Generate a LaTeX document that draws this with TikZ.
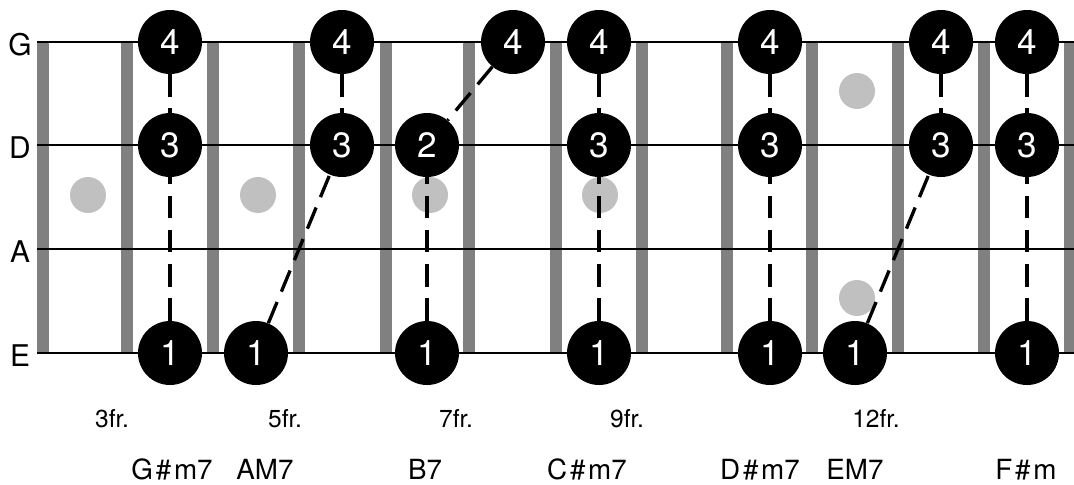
\documentclass[tikz,border=0pt]{standalone}
\usepackage{fontspec}
\setmainfont{TeX Gyre Heros}
\definecolor{fretgray}{HTML}{808080}
\definecolor{dotgray}{HTML}{C0C0C0}
% string heights, in px of the drawing
\newcommand{\yG}{42}
\newcommand{\yD}{145}
\newcommand{\yA}{249}
\newcommand{\yE}{353}
\newcommand{\fing}[4]{\node[finger] (#1) at (#2,#3) {#4};}
\newcommand{\chordname}[3]{\node[chord] (#1) at (#2,479) {#3};}
\newcommand{\fretmark}[3]{\node[frlabel] (#1) at (#2,427) {#3};}
\newcommand{\sh}{\hspace{0.1em}\#\hspace{0.1em}}
\tikzset{
  finger/.style={circle, fill=black, minimum size=1.28cm, inner sep=0pt, text=white,
    font=\fontsize{20}{20}\selectfont},
  inlay/.style={circle, fill=dotgray, minimum size=0.72cm, inner sep=0pt},
  fingerline/.style={line width=1.9pt, dash pattern=on 13pt off 6.4pt},
  strline/.style={line width=1.1pt},
  strlabel/.style={font=\fontsize{17}{17}\selectfont, anchor=base, inner sep=0pt},
  frlabel/.style={font=\fontsize{14}{14}\selectfont, anchor=base, inner sep=0pt},
  chord/.style={font=\fontsize{15.8}{15.8}\selectfont, anchor=base, inner sep=0pt}
}
\begin{document}
\begin{tikzpicture}[x=0.02cm, y=-0.02cm]
    \useasboundingbox (0,0) rectangle (1074,484);
    % frets
    \foreach \x in {43,127,213,299,386,469,556,642,727,812,898,984,1070}
        \fill[fretgray] (\x-6,\yG) rectangle (\x+6,\yE);
    % strings
    \foreach \s/\y in {G/\yG, D/\yD, A/\yA, E/\yE} {
        \draw[strline] (37,\y) -- (1074,\y);
        \node[strlabel] (lbl\s) at (20,\y+13) {\s};
    }
    % position marks
    \node[inlay] (in3) at (88,195) {};
    \node[inlay] (in5) at (258,195) {};
    \node[inlay] (in7) at (430,195) {};
    \node[inlay] (in9) at (600,195) {};
    \node[inlay] (in12a) at (857,91) {};
    \node[inlay] (in12b) at (857,298) {};
    % G#m7
    \fing{g4}{170}{\yG}{4}
    \fing{g3}{170}{\yD}{3}
    \fing{g1}{170}{\yE}{1}
    % AM7
    \fing{a4}{342}{\yG}{4}
    \fing{a3}{342}{\yD}{3}
    \fing{a1}{256}{\yE}{1}
    % B7
    \fing{b4}{513}{\yG}{4}
    \fing{b2}{427}{\yD}{2}
    \fing{b1}{427}{\yE}{1}
    % C#m7
    \fing{c4}{599}{\yG}{4}
    \fing{c3}{599}{\yD}{3}
    \fing{c1}{599}{\yE}{1}
    % D#m7
    \fing{d4}{770}{\yG}{4}
    \fing{d3}{770}{\yD}{3}
    \fing{d1}{770}{\yE}{1}
    % EM7
    \fing{e4}{941}{\yG}{4}
    \fing{e3}{941}{\yD}{3}
    \fing{e1}{855}{\yE}{1}
    % F#m
    \fing{f4}{1027}{\yG}{4}
    \fing{f3}{1027}{\yD}{3}
    \fing{f1}{1027}{\yE}{1}
    % finger paths
    \foreach \c/\m in {g/3, a/3, b/2, c/3, d/3, e/3, f/3} {
        \draw[fingerline] (\c4) -- (\c\m);
        \draw[fingerline] (\c1) -- (\c\m);
    }
    % fret numbers
    \fretmark{fr3}{112}{3fr.}
    \fretmark{fr5}{285}{5fr.}
    \fretmark{fr7}{456}{7fr.}
    \fretmark{fr9}{627}{9fr.}
    \fretmark{fr12}{876}{12fr.}
    % chord names
    \chordname{chG}{172}{G\sh m7}
    \chordname{chA}{265}{AM7}
    \chordname{chB}{425}{B7}
    \chordname{chC}{587}{C\sh m7}
    \chordname{chD}{760}{D\sh m7}
    \chordname{chE}{855}{EM7}
    \chordname{chF}{1026}{F\sh m}
\end{tikzpicture}
\end{document}
